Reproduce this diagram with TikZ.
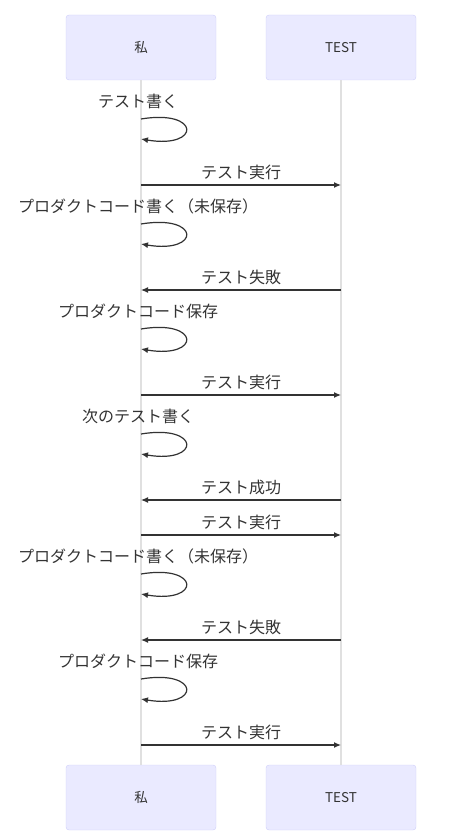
\documentclass[tikz,border=0pt]{standalone}
\usepackage{fontspec}
\setmainfont{Noto Sans CJK JP}
\usetikzlibrary{positioning,arrows.meta}
\definecolor{actbg}{RGB}{234,234,255}
\definecolor{actbd}{RGB}{206,206,250}
\definecolor{ink}{RGB}{51,51,51}
\definecolor{life}{RGB}{224,224,224}

\begin{document}
\begin{tikzpicture}[x=1pt,y=-1pt,
	every node/.style={text=ink,font=\fontsize{16}{19}\selectfont},
	actor/.style={draw=actbd,fill=actbg,rounded corners=3pt,minimum width=150pt,minimum height=65pt,font=\fontsize{13.5}{16}\selectfont},
	msg/.style={draw=ink,line width=1.2pt,-{Latex[length=7pt,width=6pt]}},
	lifeline/.style={draw=life,line width=1.5pt}]
\useasboundingbox (0,0) rectangle (468,840);

\node[actor] (me) at (141,47.5) {私};
\node[actor] (test) at (341,47.5) {TEST};
\node[actor] (me2) at (141,797.5) {私};
\node[actor] (test2) at (341,797.5) {TEST};

\draw[lifeline] (me)--(me2);
\draw[lifeline] (test)--(test2);

% messages between the lifelines
\foreach \y/\f/\t/\l in {185/m/t/テスト実行,290/t/m/テスト失敗,395/m/t/テスト実行,500/t/m/テスト成功,535/m/t/テスト実行,640/t/m/テスト失敗,745/m/t/テスト実行}{
	\coordinate (m\y) at (141,\y);
	\coordinate (t\y) at (341,\y);
	\draw[msg] (\f\y)--node[above=1pt,midway]{\l}(\t\y);
}

% self calls
\foreach \y/\l in {119/テスト書く,224/プロダクトコード書く（未保存）,329/プロダクトコード保存,434/次のテスト書く,574/プロダクトコード書く（未保存）,679/プロダクトコード保存}{
	\coordinate (s\y) at (141,\y);
	\coordinate (e\y) at (141,\y+20);
	\node (n\y) at (138,\y-18) {\l};
	\draw[msg] (s\y) .. controls +(60,-10) and +(60,10) .. (e\y);
}
\end{tikzpicture}
\end{document}
